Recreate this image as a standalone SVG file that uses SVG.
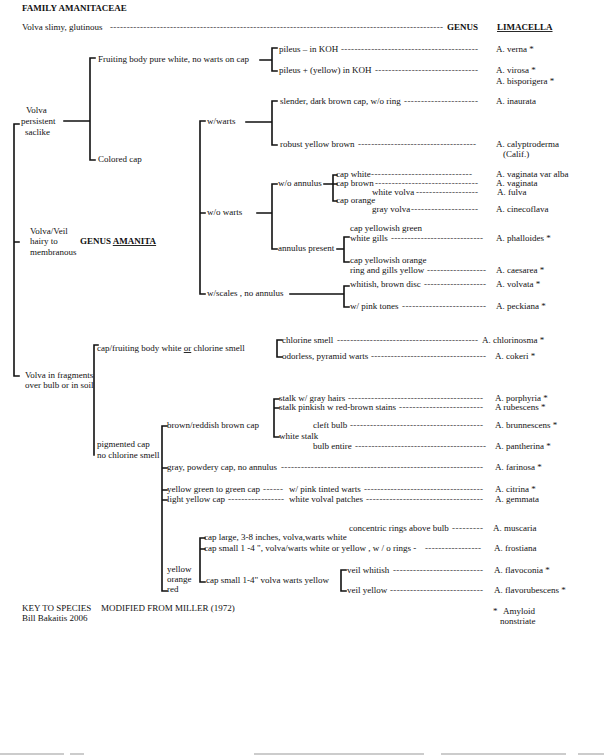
<svg xmlns="http://www.w3.org/2000/svg" width="604" height="756" viewBox="0 0 604 756">
<style>
text{font-family:"Liberation Serif","Times New Roman",serif;font-size:9px;fill:#111}
.b{font-weight:bold}
.u{text-decoration:underline}
.ld{fill:#333}
.ln{stroke:#111;stroke-width:1.6;fill:none;stroke-linecap:square}
.scan{stroke:#999;stroke-width:1;fill:none}
</style>
<rect width="604" height="756" fill="#fff"/>
<g id="title">
<text class="b" x="22" y="11">FAMILY AMANITACEAE</text>
</g>
<g id="n-limacella">
<text x="22" y="30">Volva slimy, glutinous</text>
<text class="ld" x="110" y="30" textLength="333" lengthAdjust="spacing">----------------------------------------------------------------------------------------------------</text>
<text class="b" x="447" y="30">GENUS</text>
<text class="b u" x="497" y="30">LIMACELLA</text>
</g>
<g id="connectors">
<path class="ln" d="M14,124V376M14,124H19M14,242H19M14,376H19"/>
<path class="ln" d="M64,121H90M90,58V160M90,58H95M90,160H95"/>
<path class="ln" d="M260,60H272M272,48V71M272,48H277M272,71H277"/>
<path class="ln" d="M200,121V294M200,121H205M200,213H205M200,294H205"/>
<path class="ln" d="M246,122H272M272,101V145M272,101H277M272,145H277"/>
<path class="ln" d="M257,213H272M272,184V249M272,184H277M272,249H277"/>
<path class="ln" d="M324,184H333M333,175V201M333,175H337M333,184H337M333,201H337"/>
<path class="ln" d="M337,249H344M344,237V262M344,237H349M344,262H349"/>
<path class="ln" d="M290,294H344M344,286V307M344,286H349M344,307H349"/>
<path class="ln" d="M94,345V455M94,345H98"/>
<path class="ln" d="M277,340V357M277,340H282M277,357H282"/>
<path class="ln" d="M162,426V591M162,426H167M162,468H167M162,490H167M162,500H167M162,591H167"/>
<path class="ln" d="M274,399V437M274,399H279M274,408H279M274,437H279"/>
<path class="ln" d="M200,538V582M200,538H205M200,549H205M200,582H205"/>
<path class="ln" d="M341,570V591M341,570H346M341,591H346"/>
</g>
<g id="n-persistent">
<text x="26" y="113">Volva</text>
<text x="21" y="124">persistent</text>
<text x="25" y="135">saclike</text>
</g>
<g id="n-fruiting">
<text x="98" y="62">Fruiting body pure white, no warts on cap</text>
</g>
<g id="n-verna">
<text x="279" y="52">pileus – in KOH</text>
<text class="ld" x="341" y="52" textLength="137" lengthAdjust="spacing">-----------------------------------------</text>
<text x="496" y="52">A. verna *</text>
</g>
<g id="n-virosa">
<text x="279" y="73">pileus + (yellow) in KOH</text>
<text class="ld" x="375" y="73" textLength="103" lengthAdjust="spacing">-------------------------------</text>
<text x="496" y="73">A. virosa *</text>
<text x="496" y="84">A. bisporigera *</text>
</g>
<g id="n-colored">
<text x="98" y="162">Colored cap</text>
</g>
<g id="n-warts">
<text x="207" y="124">w/warts</text>
</g>
<g id="n-inaurata">
<text x="280" y="104">slender, dark brown cap, w/o ring</text>
<text class="ld" x="404" y="104" textLength="74" lengthAdjust="spacing">----------------------</text>
<text x="496" y="104">A. inaurata</text>
</g>
<g id="n-calyptroderma">
<text x="280" y="147">robust yellow brown</text>
<text class="ld" x="358" y="147" textLength="118" lengthAdjust="spacing">------------------------------------</text>
<text x="496" y="147">A. calyptroderma</text>
<text x="503" y="157">(Calif.)</text>
</g>
<g id="n-nowarts">
<text x="207" y="215">w/o warts</text>
</g>
<g id="n-noannulus">
<text x="278" y="186">w/o annulus</text>
</g>
<g id="n-alba">
<text x="336" y="177">cap white</text>
<text class="ld" x="371" y="177" textLength="101" lengthAdjust="spacing">------------------------------</text>
<text x="496" y="177">A. vaginata var alba</text>
</g>
<g id="n-vaginata">
<text x="336" y="186">cap brown</text>
<text class="ld" x="375" y="186" textLength="103" lengthAdjust="spacing">-------------------------------</text>
<text x="496" y="186">A. vaginata</text>
</g>
<g id="n-fulva">
<text x="372" y="195">white volva</text>
<text class="ld" x="416" y="195" textLength="62" lengthAdjust="spacing">-------------------</text>
<text x="497" y="195">A. fulva</text>
</g>
<g id="n-orange">
<text x="336" y="203">cap orange</text>
</g>
<g id="n-cinecoflava">
<text x="372" y="212">gray volva</text>
<text class="ld" x="411" y="212" textLength="67" lengthAdjust="spacing">--------------------</text>
<text x="496" y="212">A. cinecoflava</text>
</g>
<g id="n-annulus">
<text x="278" y="251">annulus present</text>
</g>
<g id="n-phalloides">
<text x="350" y="231">cap yellowish green</text>
<text x="350" y="241">white gills</text>
<text class="ld" x="391" y="241" textLength="92" lengthAdjust="spacing">----------------------------</text>
<text x="496" y="241">A. phalloides *</text>
</g>
<g id="n-caesarea">
<text x="350" y="263">cap yellowish orange</text>
<text x="350" y="273">ring and gills yellow</text>
<text class="ld" x="427" y="273" textLength="59" lengthAdjust="spacing">------------------</text>
<text x="496" y="273">A. caesarea *</text>
</g>
<g id="n-scales">
<text x="207" y="296">w/scales , no annulus</text>
</g>
<g id="n-volvata">
<text x="350" y="287">whitish, brown disc</text>
<text class="ld" x="424" y="287" textLength="62" lengthAdjust="spacing">-------------------</text>
<text x="496" y="287">A. volvata *</text>
</g>
<g id="n-peckiana">
<text x="350" y="309">w/ pink tones</text>
<text class="ld" x="402" y="309" textLength="84" lengthAdjust="spacing">-------------------------</text>
<text x="496" y="309">A. peckiana *</text>
</g>
<g id="n-veil">
<text x="30" y="234">Volva/Veil</text>
<text x="30" y="244">hairy to</text>
<text x="30" y="255">membranous</text>
<text class="b" x="80" y="244">GENUS <tspan class="u">AMANITA</tspan></text>
</g>
<g id="n-fragments">
<text x="25" y="378">Volva in fragments</text>
<text x="25" y="388">over bulb or in soil</text>
</g>
<g id="n-white">
<text x="97" y="351">cap/fruiting body white <tspan class="u">or</tspan> chlorine smell</text>
</g>
<g id="n-chlorinosma">
<text x="282" y="343">chlorine smell</text>
<text class="ld" x="337" y="343" textLength="141" lengthAdjust="spacing">-------------------------------------------</text>
<text x="482" y="343">A. chlorinosma *</text>
</g>
<g id="n-cokeri">
<text x="282" y="359">odorless, pyramid warts</text>
<text class="ld" x="371" y="359" textLength="115" lengthAdjust="spacing">-----------------------------------</text>
<text x="495" y="359">A. cokeri *</text>
</g>
<g id="n-pigmented">
<text x="97" y="447">pigmented cap</text>
<text x="97" y="458">no chlorine smell</text>
</g>
<g id="n-brown">
<text x="167" y="428">brown/reddish brown cap</text>
</g>
<g id="n-porphyria">
<text x="279" y="401">stalk w/ gray hairs</text>
<text class="ld" x="348" y="401" textLength="135" lengthAdjust="spacing">-----------------------------------------</text>
<text x="495" y="401">A. porphyria *</text>
</g>
<g id="n-rubescens">
<text x="279" y="410">stalk pinkish w red-brown stains</text>
<text class="ld" x="399" y="410" textLength="84" lengthAdjust="spacing">-------------------------</text>
<text x="495" y="410">A rubescens *</text>
</g>
<g id="n-whitestalk">
<text x="279" y="439">white stalk</text>
</g>
<g id="n-brunnescens">
<text x="313" y="428">cleft bulb</text>
<text class="ld" x="350" y="428" textLength="133" lengthAdjust="spacing">----------------------------------------</text>
<text x="495" y="428">A. brunnescens *</text>
</g>
<g id="n-pantherina">
<text x="313" y="449">bulb entire</text>
<text class="ld" x="355" y="449" textLength="131" lengthAdjust="spacing">----------------------------------------</text>
<text x="495" y="449">A. pantherina *</text>
</g>
<g id="n-farinosa">
<text x="167" y="470">gray, powdery cap, no annulus</text>
<text class="ld" x="281" y="470" textLength="202" lengthAdjust="spacing">-------------------------------------------------------------</text>
<text x="495" y="470">A. farinosa *</text>
</g>
<g id="n-citrina">
<text x="167" y="492">yellow green to green cap</text>
<text class="ld" x="263" y="492" textLength="20" lengthAdjust="spacing">------</text>
<text x="289" y="492">w/ pink tinted warts</text>
<text class="ld" x="364" y="492" textLength="119" lengthAdjust="spacing">------------------------------------</text>
<text x="495" y="492">A. citrina *</text>
</g>
<g id="n-gemmata">
<text x="167" y="502">light yellow cap</text>
<text class="ld" x="228" y="502" textLength="56" lengthAdjust="spacing">-----------------</text>
<text x="289" y="502">white volval patches</text>
<text class="ld" x="366" y="502" textLength="117" lengthAdjust="spacing">-----------------------------------</text>
<text x="495" y="502">A. gemmata</text>
</g>
<g id="n-yellow">
<text x="167" y="572">yellow</text>
<text x="167" y="582">orange</text>
<text x="167" y="592">red</text>
</g>
<g id="n-muscaria">
<text x="349" y="531">concentric rings above bulb</text>
<text class="ld" x="452" y="531" textLength="31" lengthAdjust="spacing">---------</text>
<text x="493" y="531">A. muscaria</text>
</g>
<g id="n-large">
<text x="204" y="540">cap large, 3-8 inches, volva,warts white</text>
</g>
<g id="n-frostiana">
<text x="204" y="551">cap small 1 -4 ", volva/warts white or yellow , w / o rings -</text>
<text class="ld" x="425" y="551" textLength="56" lengthAdjust="spacing">-----------------</text>
<text x="494" y="551">A. frostiana</text>
</g>
<g id="n-smallyellow">
<text x="206" y="583">cap small 1-4" volva warts yellow</text>
</g>
<g id="n-flavoconia">
<text x="347" y="573">veil whitish</text>
<text class="ld" x="393" y="573" textLength="90" lengthAdjust="spacing">---------------------------</text>
<text x="494" y="573">A. flavoconia *</text>
</g>
<g id="n-flavorubescens">
<text x="347" y="593">veil yellow</text>
<text class="ld" x="390" y="593" textLength="93" lengthAdjust="spacing">----------------------------</text>
<text x="494" y="593">A. flavorubescens *</text>
</g>
<g id="footer">
<text x="22" y="611">KEY TO SPECIES</text>
<text x="101" y="611">MODIFIED FROM MILLER (1972)</text>
<text x="22" y="621">Bill Bakaitis 2006</text>
<text x="493" y="614">*</text>
<text x="503" y="614">Amyloid</text>
<text x="500" y="624">nonstriate</text>
</g>
<path class="scan" d="M0,754H64M70,754H84M254,754H424M441,754H566M578,754H604"/>
</svg>
